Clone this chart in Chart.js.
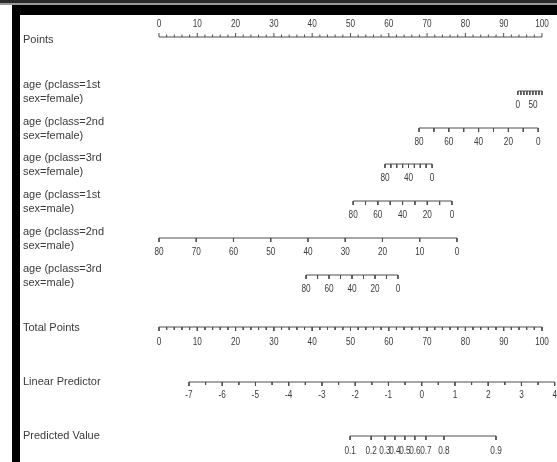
<!DOCTYPE html>
<html>
<head>
<meta charset="utf-8">
<script src="https://cdn.jsdelivr.net/npm/chart.js@4.4.1/dist/chart.umd.min.js"></script>
<style>
  html, body { margin: 0; padding: 0; background: #fff; }
  #wrap { position: relative; width: 557px; height: 462px; overflow: hidden; background: #fff; }
  #nomo { position: absolute; left: 0; top: 0; }
  .frame { position: absolute; background: #000; }
</style>
</head>
<body>
<div id="wrap">
  <canvas id="nomo" width="557" height="462"></canvas>
  <div class="frame" style="left:0;top:0;width:557px;height:3px;background:#2a2a2a"></div>
  <div class="frame" style="left:0;top:3px;width:557px;height:2px;background:#9a9a9a"></div>
  <div class="frame" style="left:12px;top:5px;width:545px;height:10px"></div>
  <div class="frame" style="left:12px;top:5px;width:8px;height:457px"></div>
</div>
<script>
// ---- Points scale ----
const pointsTicks = [0, 10, 20, 30, 40, 50, 60, 70, 80, 90, 100];

// ---- age axes, one per pclass / sex group ----
const groupNames = [
  ['age (pclass=1st', 'sex=female)'],
  ['age (pclass=2nd', 'sex=female)'],
  ['age (pclass=3rd', 'sex=female)'],
  ['age (pclass=1st', 'sex=male)'],
  ['age (pclass=2nd', 'sex=male)'],
  ['age (pclass=3rd', 'sex=male)']
];
const ageTicks = [0, 10, 20, 30, 40, 50, 60, 70, 80];
// points contributed at age 0 and at age 80 for each group
const agePointsAtAge0  = [93.7, 99.0, 71.3, 76.5, 77.8, 62.4];
const agePointsAtAge80 = [100.0, 67.9, 59.0, 50.7, 0.0, 38.4];
const ageTickLabels = [
  [0, 50],
  [80, 60, 40, 20, 0],
  [80, 40, 0],
  [80, 60, 40, 20, 0],
  [80, 70, 60, 50, 40, 30, 20, 10, 0],
  [80, 60, 40, 20, 0]
];

// ---- Total points, linear predictor, predicted value ----
const totalPointsTicks = [0, 10, 20, 30, 40, 50, 60, 70, 80, 90, 100];
const linearPredictorTicks = [-7, -6, -5, -4, -3, -2, -1, 0, 1, 2, 3, 4];
const lpAtZeroPoints = -7.902;
const lpPerPoint = 0.1152;
const predictedValues = [0.1, 0.2, 0.3, 0.4, 0.5, 0.6, 0.7, 0.8, 0.9];
const predictedValueAtPoints = [49.9, 55.4, 59.0, 61.6, 64.2, 66.8, 69.7, 74.4, 88.0];

// ---- layout ----
const layout = {
  xMin: -41.51, xMax: 103.92,
  pointsY: 37, ageY: [91, 128, 164, 201, 238, 275],
  totalY: 327, lpY: 382, predY: 436,
  nameX: 23
};
const LINE = '#4e4e4e';
const TEXT = '#3a3a3a';

const ageToPoints = (g, age) =>
  agePointsAtAge0[g] + (age / 80) * (agePointsAtAge80[g] - agePointsAtAge0[g]);
const lpToPoints = lp => (lp - lpAtZeroPoints) / lpPerPoint;

// one dataset = axis line plus its tick marks, separated by gaps
function axisData(from, to, yLine, ticks) {
  const d = [{ x: from, y: yLine }, { x: to, y: yLine }, { x: null, y: null }];
  ticks.forEach(t => {
    d.push({ x: t.p, y: yLine }, { x: t.p, y: yLine + t.len }, { x: null, y: null });
  });
  return d;
}
function ds(data) {
  return {
    data, borderColor: LINE, borderWidth: 1, pointRadius: 0,
    showLine: true, spanGaps: false, tension: 0, fill: false
  };
}

const datasets = [];
// Points (ticks upward)
{
  const ticks = [];
  for (let v = 0; v <= 100; v += 2) ticks.push({ p: v, len: v % 10 === 0 ? -4 : -2.5 });
  datasets.push(ds(axisData(0, 100, layout.pointsY, ticks)));
}
// age groups (ticks downward)
groupNames.forEach((_, g) => {
  const ticks = ageTicks.map(a => ({ p: ageToPoints(g, a), len: 4 }));
  datasets.push(ds(axisData(ageToPoints(g, 0), ageToPoints(g, 80), layout.ageY[g], ticks)));
});
// Total points
{
  const ticks = [];
  for (let v = 0; v <= 100; v += 2) ticks.push({ p: v, len: v % 10 === 0 ? 4 : 3 });
  datasets.push(ds(axisData(0, 100, layout.totalY, ticks)));
}
// Linear predictor
{
  const ticks = [];
  for (let v = -7; v <= 4.001; v += 0.5) ticks.push({ p: lpToPoints(v), len: Number.isInteger(v) ? 4 : 3 });
  datasets.push(ds(axisData(lpToPoints(-7), lpToPoints(4), layout.lpY, ticks)));
}
// Predicted value
{
  const ticks = predictedValueAtPoints.map(p => ({ p, len: 4 }));
  datasets.push(ds(axisData(predictedValueAtPoints[0], predictedValueAtPoints[predictedValueAtPoints.length - 1], layout.predY, ticks)));
}

const nomogramText = {
  id: 'nomogramText',
  afterDatasetsDraw(chart) {
    const { ctx, scales: { x, y } } = chart;
    ctx.save();
    ctx.fillStyle = TEXT;
    ctx.textBaseline = 'middle';

    const name = (txt, yv) => {
      ctx.font = '11px "Liberation Sans", Arial, sans-serif';
      ctx.textAlign = 'left';
      ctx.fillText(txt, layout.nameX, y.getPixelForValue(yv));
    };
    const tick = (txt, pts, yv) => {
      ctx.save();
      ctx.font = '10px "Liberation Sans", Arial, sans-serif';
      ctx.textAlign = 'center';
      ctx.translate(x.getPixelForValue(pts), y.getPixelForValue(yv));
      ctx.scale(0.82, 1);
      ctx.fillText(txt, 0, 0);
      ctx.restore();
    };

    name('Points', layout.pointsY + 3);
    pointsTicks.forEach(v => tick(String(v), v, layout.pointsY - 13));

    groupNames.forEach((lines, g) => {
      const yl = layout.ageY[g];
      name(lines[0], yl - 6);
      name(lines[1], yl + 8);
      ageTickLabels[g].forEach(a => tick(String(a), ageToPoints(g, a), yl + 14));
    });

    name('Total Points', layout.totalY + 1);
    totalPointsTicks.forEach(v => tick(String(v), v, layout.totalY + 15));

    name('Linear Predictor', layout.lpY);
    linearPredictorTicks.forEach(v => tick(String(v), lpToPoints(v), layout.lpY + 13));

    name('Predicted Value', layout.predY);
    predictedValues.forEach((v, i) => tick(String(v), predictedValueAtPoints[i], layout.predY + 15));

    ctx.restore();
  }
};

new Chart(document.getElementById('nomo'), {
  type: 'line',
  data: { datasets },
  options: {
    responsive: false,
    animation: false,
    devicePixelRatio: 1,
    layout: { padding: 0 },
    plugins: { legend: { display: false }, tooltip: { enabled: false } },
    scales: {
      x: { type: 'linear', min: layout.xMin, max: layout.xMax, display: false },
      y: { type: 'linear', min: 0, max: 462, reverse: true, display: false }
    }
  },
  plugins: [nomogramText]
});
</script>
</body>
</html>
